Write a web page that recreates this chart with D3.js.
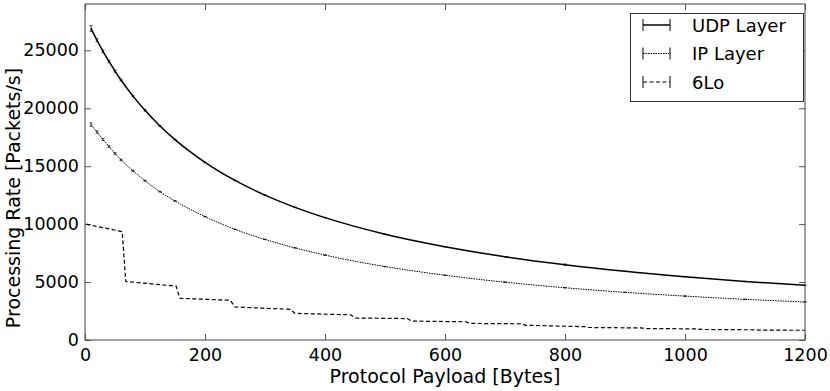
<!DOCTYPE html>
<html lang="en">
    <head>
        <meta charset="utf-8">
        <title>Processing Rate vs Payload</title>
        <script src="https://cdn.jsdelivr.net/npm/d3@7"></script>
        <style type="text/css">
        body { margin: 0; background: #fff; }
        text { font-family: "DejaVu Sans", sans-serif; fill: #000; }
        </style>
    </head>
    <body>
        <script type="text/javascript">

        // data

        var payload = [10, 20, 30, 40, 50, 60, 80, 100, 125, 150, 200, 250, 300, 350, 400, 500, 600, 700, 800, 900, 1000, 1100, 1200];

        var udpRate = [26900, 25870, 24920, 24040, 23210, 22440, 21050, 19820, 18470, 17290, 15330, 13770, 12500, 11450, 10560, 9130, 8050, 7190, 6500, 5930, 5460, 5050, 4720];
        var udpErr  = [250, 120, 110, 100, 90, 80, 70, 60, 50, 40, 30, 20, 20, 20, 20, 10, 10, 10, 60, 10, 10, 10, 10];

        var ipRate = [18600, 17950, 17300, 16700, 16100, 15550, 14600, 13750, 12800, 12000, 10650, 9550, 8680, 7950, 7330, 6340, 5590, 4990, 4510, 4110, 3790, 3510, 3280];
        var ipErr  = [150, 100, 90, 80, 70, 60, 50, 40, 30, 20, 20, 10, 10, 10, 10, 10, 10, 10, 10, 10, 10, 10, 10];

        var sixLoPayload = [2, 62, 68, 152, 158, 242, 250, 342, 350, 443, 450, 537, 545, 635, 642, 727, 735, 833, 840, 927, 933, 1020, 1027, 1117, 1123, 1200];
        var sixLoRate    = [10000, 9350, 5050, 4650, 3600, 3430, 2850, 2650, 2300, 2170, 1900, 1850, 1630, 1570, 1430, 1400, 1270, 1150, 1080, 1040, 990, 960, 910, 880, 850, 840];

        var xTicks = [0, 200, 400, 600, 800, 1000, 1200];
        var yTicks = [0, 5000, 10000, 15000, 20000, 25000];

        var legendNames = ["UDP Layer", "IP Layer", "6Lo"];
        var legendDash = ["none", "1.5,1", "4,2.5"];

        //Create svg

        var svg = d3.select("body")
                    .append("svg")
                    .attr("width", 830)
                    .attr("height", 391);

        var plotLeft = 85, plotRight = 805, plotTop = 4, plotBottom = 340;

        var x = d3.scaleLinear()
                  .domain([0, 1200])
                  .range([plotLeft, plotRight]);

        var y = d3.scaleLinear()
                  .domain([0, 29000])
                  .range([plotBottom, plotTop]);

        //Axes with inward ticks on all four sides

        svg.append("g")
           .attr("transform", "translate(0," + plotBottom + ")")
           .call(d3.axisBottom(x).tickValues(xTicks).tickSizeInner(-6).tickSizeOuter(0).tickPadding(9).tickFormat(d3.format("d")))
           .call(function(g) {
              g.select(".domain").remove();
              g.selectAll("line").attr("stroke", "#555");
              g.selectAll("text").style("font-size", "17.5px").style("font-family", "DejaVu Sans");
           });

        svg.append("g")
           .attr("transform", "translate(" + plotLeft + ",0)")
           .call(d3.axisLeft(y).tickValues(yTicks).tickSizeInner(-6).tickSizeOuter(0).tickPadding(6).tickFormat(d3.format("d")))
           .call(function(g) {
              g.select(".domain").remove();
              g.selectAll("line").attr("stroke", "#555");
              g.selectAll("text").style("font-size", "17.5px").style("font-family", "DejaVu Sans");
           });

        svg.append("g")
           .attr("transform", "translate(0," + plotTop + ")")
           .call(d3.axisTop(x).tickValues(xTicks).tickSizeInner(-6).tickSizeOuter(0).tickFormat(""))
           .call(function(g) {
              g.select(".domain").remove();
              g.selectAll("line").attr("stroke", "#555");
           });

        svg.append("g")
           .attr("transform", "translate(" + plotRight + ",0)")
           .call(d3.axisRight(y).tickValues(yTicks).tickSizeInner(-6).tickSizeOuter(0).tickFormat(""))
           .call(function(g) {
              g.select(".domain").remove();
              g.selectAll("line").attr("stroke", "#555");
           });

        //Series lines

        var udpData = payload.map(function(d, i) { return {x: d, y: udpRate[i], e: udpErr[i]}; });
        var ipData = payload.map(function(d, i) { return {x: d, y: ipRate[i], e: ipErr[i]}; });
        var sixLoData = sixLoPayload.map(function(d, i) { return {x: d, y: sixLoRate[i]}; });

        var smooth = d3.line()
                       .x(function(d) { return x(d.x); })
                       .y(function(d) { return y(d.y); })
                       .curve(d3.curveMonotoneX);

        var straight = d3.line()
                         .x(function(d) { return x(d.x); })
                         .y(function(d) { return y(d.y); });

        svg.append("path")
           .datum(udpData)
           .attr("d", smooth)
           .attr("fill", "none")
           .attr("stroke", "#000")
           .attr("stroke-width", 1.5);

        svg.append("path")
           .datum(ipData)
           .attr("d", smooth)
           .attr("fill", "none")
           .attr("stroke", "#000")
           .attr("stroke-width", 1)
           .attr("stroke-dasharray", legendDash[1]);

        svg.append("path")
           .datum(sixLoData)
           .attr("d", straight)
           .attr("fill", "none")
           .attr("stroke", "#000")
           .attr("stroke-width", 1.2)
           .attr("stroke-dasharray", legendDash[2]);

        //Error bars (tiny, like the reference)

        function errorBars(data) {
          var g = svg.append("g").attr("stroke", "#000").attr("stroke-width", 0.7);
          g.selectAll(".bar")
           .data(data)
           .enter()
           .append("line")
           .attr("x1", function(d) { return x(d.x); })
           .attr("x2", function(d) { return x(d.x); })
           .attr("y1", function(d) { return y(d.y - d.e); })
           .attr("y2", function(d) { return y(d.y + d.e); });
          g.selectAll(".capTop")
           .data(data)
           .enter()
           .append("line")
           .attr("x1", function(d) { return x(d.x) - 1.5; })
           .attr("x2", function(d) { return x(d.x) + 1.5; })
           .attr("y1", function(d) { return y(d.y + d.e); })
           .attr("y2", function(d) { return y(d.y + d.e); });
          g.selectAll(".capBottom")
           .data(data)
           .enter()
           .append("line")
           .attr("x1", function(d) { return x(d.x) - 1.5; })
           .attr("x2", function(d) { return x(d.x) + 1.5; })
           .attr("y1", function(d) { return y(d.y - d.e); })
           .attr("y2", function(d) { return y(d.y - d.e); });
        }

        errorBars(udpData);
        errorBars(ipData);

        //Frame

        svg.append("rect")
           .attr("x", plotLeft)
           .attr("y", plotTop)
           .attr("width", plotRight - plotLeft)
           .attr("height", plotBottom - plotTop)
           .attr("fill", "none")
           .attr("stroke", "#444")
           .attr("stroke-width", 1);

        //Axis labels

        svg.append("text")
           .attr("x", (plotLeft + plotRight) / 2)
           .attr("y", 383)
           .attr("text-anchor", "middle")
           .style("font-size", "19px")
           .text("Protocol Payload [Bytes]");

        svg.append("text")
           .attr("transform", "translate(20,198) rotate(-90)")
           .attr("text-anchor", "middle")
           .style("font-size", "19px")
           .text("Processing Rate [Packets/s]");

        //Legend

        var legend = svg.append("g");

        legend.append("rect")
              .attr("x", 630.5)
              .attr("y", 13.5)
              .attr("width", 173)
              .attr("height", 88)
              .attr("fill", "#fff")
              .attr("stroke", "#333")
              .attr("stroke-width", 1);

        var entry = legend.selectAll(".entry")
                          .data(legendNames)
                          .enter()
                          .append("g")
                          .attr("transform", function(d, i) { return "translate(0," + (25 + i * 28.5) + ")"; });

        entry.append("line")
             .attr("x1", 643)
             .attr("x2", 670)
             .attr("stroke", "#000")
             .attr("stroke-width", function(d, i) { return i == 0 ? 1.5 : 1.2; })
             .attr("stroke-dasharray", function(d, i) { return legendDash[i]; });

        entry.append("line")
             .attr("x1", 643).attr("x2", 643)
             .attr("y1", -6).attr("y2", 6)
             .attr("stroke", "#000");

        entry.append("line")
             .attr("x1", 670).attr("x2", 670)
             .attr("y1", -6).attr("y2", 6)
             .attr("stroke", "#000");

        entry.append("text")
             .attr("x", 692)
             .attr("y", 6.5)
             .style("font-size", "18px")
             .text(function(d) { return d; });

    </script>
    </body>
</html>
